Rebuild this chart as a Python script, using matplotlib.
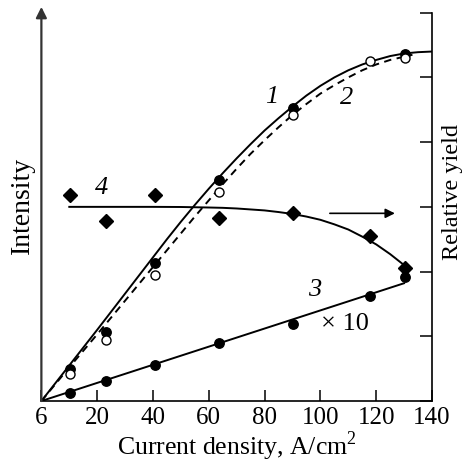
import matplotlib
matplotlib.use("Agg")
import matplotlib.pyplot as plt

plt.rcParams['font.family'] = ['Liberation Serif', 'DejaVu Serif']
plt.rcParams['mathtext.fontset'] = 'custom'
plt.rcParams['mathtext.rm'] = 'Liberation Serif'

# measured points
x_pts = [10.3, 23.2, 40.7, 63.7, 90.3, 117.8, 130.3]
y1_pts = [0.50, 1.07, 2.14, 3.42, 4.53, None, 5.36]
y2_pts = [0.42, 0.94, 1.95, 3.23, 4.42, 5.26, 5.30]
y3_pts = [0.13, 0.31, 0.55, 0.89, 1.19, 1.63, 1.91]
y4_pts = [3.18, 2.78, 3.18, 2.83, 2.90, 2.55, 2.06]

# fitted curves
c1_x = [0, 10, 20, 30, 40, 45, 50, 55, 60, 65, 70, 75, 80, 85, 90, 95, 100,
        105, 110, 115, 120, 125, 130, 135, 140]
c1_y = [0, 0.55, 1.10, 1.66, 2.22, 2.50, 2.77, 3.03, 3.28, 3.52, 3.75, 3.97,
        4.18, 4.37, 4.55, 4.72, 4.87, 5.00, 5.11, 5.20, 5.27, 5.33, 5.37,
        5.39, 5.40]
c2_x = [0, 10, 20, 30, 40, 45, 50, 55, 60, 65, 70, 75, 80, 85, 90, 95, 100,
        105, 110, 115, 120, 125, 130, 133]
c2_y = [0, 0.52, 1.03, 1.55, 2.07, 2.33, 2.59, 2.85, 3.10, 3.35, 3.59, 3.82,
        4.03, 4.23, 4.42, 4.59, 4.75, 4.88, 5.00, 5.11, 5.20, 5.27, 5.32, 5.35]
c3_x = [0, 65, 130]
c3_y = [0, 0.91, 1.82]
c4_x = [10, 40, 50, 60, 65, 70, 75, 80, 85, 90, 95, 100, 105, 110, 115, 120,
        125, 130]
c4_y = [3.00, 3.00, 2.998, 2.99, 2.985, 2.975, 2.96, 2.945, 2.92, 2.89, 2.85,
        2.80, 2.73, 2.65, 2.54, 2.42, 2.27, 2.10]

xticks = [0, 20, 40, 60, 80, 100, 120, 140]
xticklabels = ['6', '20', '40', '60', '80', '100', '120', '140']

fig = plt.figure(figsize=(4.65, 4.62), dpi=100)
ax = fig.add_axes([0.089, 0.132, 0.840, 0.8405])

lw = 1.4
ax.plot(c1_x, c1_y, color='black', lw=lw)
ax.plot(c2_x, c2_y, color='black', lw=lw, ls=(0, (3.8, 2.8)))
ax.plot(c3_x, c3_y, color='black', lw=lw)
ax.plot(c4_x, c4_y, color='black', lw=lw)

x1 = [x for x, y in zip(x_pts, y1_pts) if y is not None]
y1 = [y for y in y1_pts if y is not None]
ax.plot(x1, y1, 'o', color='black', ms=6.8, zorder=4)
ax.plot(x_pts, y2_pts, 'o', mfc='white', mec='black', mew=1.0, ms=6.5, zorder=5)
ax.plot(x_pts, y3_pts, 'o', color='black', ms=6.8, zorder=4)
ax.plot(x_pts, y4_pts, 'D', color='black', ms=7.5, zorder=4)

ax.set_xlim(0, 140)
ax.set_ylim(0, 6)
ax.spines['top'].set_visible(False)
ax.spines['left'].set_visible(False)
ax.spines['right'].set_linewidth(1.2)
ax.spines['bottom'].set_linewidth(1.2)

ax.set_xticks(xticks)
ax.set_xticklabels(xticklabels, fontsize=18)
ax.tick_params(axis='x', direction='in', length=8, width=1.1, pad=4)
ax.yaxis.tick_right()
ax.set_yticks([0, 1, 2, 3, 4, 5, 6])
ax.set_yticklabels([])
ax.tick_params(axis='y', direction='in', length=9, width=1.1)

# left axis arrow
ax.annotate('', xy=(0, 6.09), xytext=(0, 0), xycoords='data',
            arrowprops=dict(arrowstyle='-|>', color='#333333', lw=1.6,
                            mutation_scale=16, shrinkA=0, shrinkB=0),
            annotation_clip=False)

# yield arrow
ax.annotate('', xy=(126.7, 2.90), xytext=(103.4, 2.90),
            arrowprops=dict(arrowstyle='-|>', color='black', lw=1.2,
                            mutation_scale=14, shrinkA=0, shrinkB=0))

ax.text(82.7, 4.70, '1', fontsize=19, style='italic', ha='center', va='center')
ax.text(109.5, 4.68, '2', fontsize=19, style='italic', ha='center', va='center')
ax.text(21.7, 3.29, '4', fontsize=19, style='italic', ha='center', va='center')
ax.text(98.0, 1.72, '3', fontsize=19, style='italic', ha='center', va='center')
ax.text(108.8, 1.19, '\u00d7 10', fontsize=19, ha='center', va='center')

fig.text(236.5 / 465, 1 - 446.5 / 462, 'Current density, A/cm$^2$',
         fontsize=18.5, ha='center', va='center')
fig.text(22 / 465, 1 - 205 / 462, 'Intensity', fontsize=20,
         rotation=90, ha='center', va='center')
fig.text(452 / 465, 1 - 192 / 462, 'Relative yield', fontsize=17.5,
         rotation=90, ha='center', va='center')

fig.savefig('out.png', dpi=100)
